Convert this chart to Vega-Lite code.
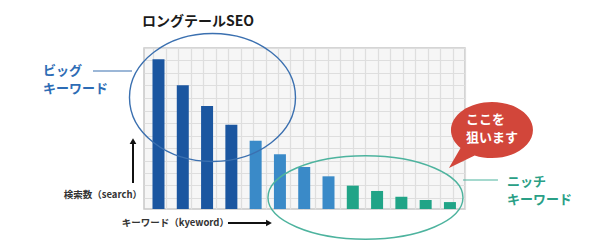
{
  "$schema": "https://vega.github.io/schema/vega-lite/v6.json",
  "width": 321,
  "height": 161,
  "autosize": {"type": "none"},
  "padding": {"left": 144, "top": 48, "right": 133, "bottom": 37},
  "background": "#ffffff",
  "config": {
    "font": "Noto Sans CJK JP",
    "view": {"fill": "#f6f6f6", "stroke": "#c8c8c8", "strokeWidth": 1.5},
    "axis": {"grid": true, "labels": false, "ticks": false, "domain": false,
             "gridColor": "#dedede", "gridWidth": 1.2}
  },
  "encoding": {
    "x": {"type": "quantitative",
          "scale": {"domain": [0.403, 13.62], "nice": false, "zero": false, "padding": 0},
          "axis": {"title": null, "values": [0.785,1.298,1.812,2.325,2.839,3.352,3.865,4.379,4.892,5.406,5.919,6.432,6.946,7.459,7.973,8.486,8.999,9.513,10.026,10.54,11.053,11.566,12.08,12.593,13.107,13.62]}},
    "y": {"type": "quantitative",
          "scale": {"domain": [0, 100], "nice": false, "zero": false, "padding": 0},
          "axis": {"title": null, "values": [6.83,14.6,22.36,30.12,37.89,45.65,53.42,61.18,68.94,76.71,84.47,92.24,100]}}
  },
  "layer": [
    {
      "data": {"values": [
        {"rank": 1, "search": 93.0, "group": "big"},
        {"rank": 2, "search": 76.8, "group": "big"},
        {"rank": 3, "search": 64.0, "group": "big"},
        {"rank": 4, "search": 52.4, "group": "big"},
        {"rank": 5, "search": 42.4, "group": "middle"},
        {"rank": 6, "search": 34.0, "group": "middle"},
        {"rank": 7, "search": 26.1, "group": "middle"},
        {"rank": 8, "search": 20.3, "group": "middle"},
        {"rank": 9, "search": 14.5, "group": "niche"},
        {"rank": 10, "search": 11.2, "group": "niche"},
        {"rank": 11, "search": 7.6, "group": "niche"},
        {"rank": 12, "search": 5.6, "group": "niche"},
        {"rank": 13, "search": 4.3, "group": "niche"}
      ]},
      "mark": {"type": "bar", "orient": "vertical", "size": 12},
      "encoding": {
        "x": {"field": "rank", "type": "quantitative"},
        "y": {"field": "search", "type": "quantitative", "stack": null},
        "color": {"field": "group", "type": "nominal", "legend": null,
                  "scale": {"domain": ["big", "middle", "niche"], "range": ["#1b56a0", "#3a8ac8", "#21a487"]}}
      }
    },
    {
      "data": {"values": [{"rank": 3.223, "search": 69.25, "name": "big keywords"}]},
      "mark": {"type": "point", "filled": false, "stroke": "#3b70b0", "strokeWidth": 1.4, "opacity": 1,
               "shape": "M-1,0A1,0.771 0 1,1 1,0A1,0.771 0 1,1 -1,0Z", "size": 27556, "clip": false},
      "encoding": {
        "x": {"field": "rank", "type": "quantitative"},
        "y": {"field": "search", "type": "quantitative"}
      }
    },
    {
      "data": {"values": [{"rank": 9.522, "search": 7.14, "name": "niche keywords"}]},
      "mark": {"type": "point", "filled": false, "stroke": "#4db39e", "strokeWidth": 1.4, "opacity": 1,
               "shape": "M-1,0A1,0.428 0 1,1 1,0A1,0.428 0 1,1 -1,0Z", "size": 38025, "clip": false},
      "encoding": {
        "x": {"field": "rank", "type": "quantitative"},
        "y": {"field": "search", "type": "quantitative"}
      }
    },
    {
      "data": {"values": [{"rank": 14.73, "search": 49.07, "name": "bubble"}]},
      "mark": {"type": "point", "filled": true, "fill": "#d2463a", "strokeWidth": 0, "opacity": 1,
               "shape": "M-0.385,0.564L-0.956,0.844L-0.698,0.4A0.911,0.622 0 1 1 -0.385,0.564Z", "size": 8100, "clip": false},
      "encoding": {
        "x": {"field": "rank", "type": "quantitative"},
        "y": {"field": "search", "type": "quantitative"}
      }
    },
    {
      "data": {"values": [
        {"r1": -1.697, "r2": -0.091, "s1": 85.7, "s2": 85.7, "c": "#3b70b0", "w": 1.2},
        {"r1": 13.536, "r2": 14.977, "s1": 18.01, "s2": 18.01, "c": "#4db39e", "w": 1.2},
        {"r1": -0.05, "r2": -0.05, "s1": 16.15, "s2": 41.6, "c": "#111111", "w": 2},
        {"r1": 3.861, "r2": 5.467, "s1": -8.7, "s2": -8.7, "c": "#111111", "w": 2}
      ]},
      "mark": {"type": "rule", "clip": false},
      "encoding": {
        "x": {"field": "r1", "type": "quantitative"},
        "x2": {"field": "r2"},
        "y": {"field": "s1", "type": "quantitative"},
        "y2": {"field": "s2"},
        "color": {"field": "c", "type": "nominal", "scale": null},
        "strokeWidth": {"field": "w", "type": "quantitative", "scale": null}
      }
    },
    {
      "data": {"values": [
        {"rank": -0.05, "search": 42.2, "sh": "triangle-up"},
        {"rank": 5.549, "search": -8.7, "sh": "triangle-right"}
      ]},
      "mark": {"type": "point", "filled": true, "color": "#111111", "opacity": 1, "size": 45, "clip": false},
      "encoding": {
        "x": {"field": "rank", "type": "quantitative"},
        "y": {"field": "search", "type": "quantitative"},
        "shape": {"field": "sh", "type": "nominal", "scale": null}
      }
    },
    {
      "data": {"values": [
        {"t": "ロングテールSEO", "rank": 0.321, "search": 116.1, "c": "#1a1a1a", "fs": 14},
        {"t": "ビッグ", "rank": -3.755, "search": 85.9, "c": "#2d6cb5", "fs": 13},
        {"t": "キーワード", "rank": -3.755, "search": 74.35, "c": "#2d6cb5", "fs": 13},
        {"t": "ニッチ", "rank": 15.347, "search": 16.96, "c": "#2a9f86", "fs": 13},
        {"t": "キーワード", "rank": 15.347, "search": 5.59, "c": "#2a9f86", "fs": 13},
        {"t": "ここを", "rank": 13.659, "search": 55.47, "c": "#ffffff", "fs": 13},
        {"t": "狙います", "rank": 13.659, "search": 43.91, "c": "#ffffff", "fs": 13}
      ]},
      "mark": {"type": "text", "align": "left", "baseline": "middle", "fontWeight": "bold", "clip": false},
      "encoding": {
        "x": {"field": "rank", "type": "quantitative"},
        "y": {"field": "search", "type": "quantitative"},
        "text": {"field": "t"},
        "color": {"field": "c", "type": "nominal", "scale": null},
        "size": {"field": "fs", "type": "quantitative", "scale": null}
      }
    },
    {
      "data": {"values": [
        {"t": "検索数（search）", "rank": 0.321, "search": 8.7},
        {"t": "キーワード（kyeword）", "rank": 3.902, "search": -8.7}
      ]},
      "mark": {"type": "text", "align": "right", "baseline": "middle", "fontWeight": "bold", "fontSize": 9.5,
               "color": "#333333", "clip": false},
      "encoding": {
        "x": {"field": "rank", "type": "quantitative"},
        "y": {"field": "search", "type": "quantitative"},
        "text": {"field": "t"}
      }
    }
  ]
}
